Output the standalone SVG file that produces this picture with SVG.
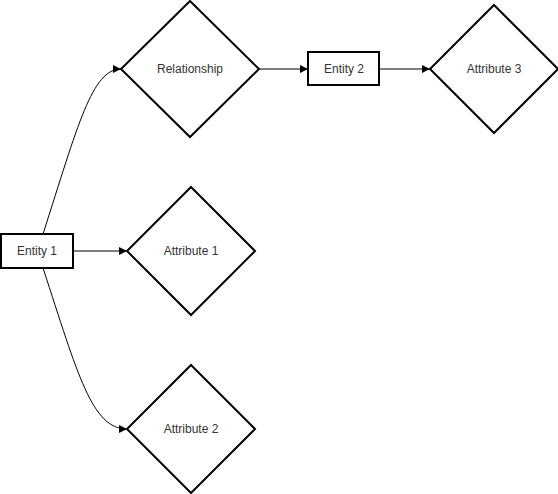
<svg xmlns="http://www.w3.org/2000/svg" width="558" height="494" viewBox="0 0 558 494">
<defs>
<marker id="arr" markerWidth="10" markerHeight="10" refX="9" refY="5" orient="auto" markerUnits="userSpaceOnUse">
<path d="M1,1 L9,5 L1,9 Z" fill="#000"/>
</marker>
<style>
.shape{fill:#fff;stroke:#000;stroke-width:2}
.edge{fill:none;stroke:#000;stroke-width:1;marker-end:url(#arr)}
text{font-family:"Liberation Sans",Arial,sans-serif;font-size:12px;fill:#333;text-anchor:middle;dominant-baseline:central}
</style>
</defs>
<rect width="558" height="494" fill="#fff"/>
<g id="connectors">
<path class="edge" d="M43,234 C78,125 92,69 121,69"/>
<path class="edge" d="M43,268 C78,375 92,429 127,429"/>
<path class="edge" d="M73,251 L127,251"/>
<path class="edge" d="M259,69 L308,69"/>
<path class="edge" d="M379,69 L430,69"/>
</g>
<g id="entity1">
<rect class="shape" x="1" y="234" width="72" height="34"/>
<text x="37" y="251">Entity 1</text>
</g>
<g id="relationship">
<polygon class="shape" points="190,1 259,69 190,137 121,69"/>
<text x="190" y="69">Relationship</text>
</g>
<g id="entity2">
<rect class="shape" x="308" y="52" width="71" height="33"/>
<text x="344" y="69">Entity 2</text>
</g>
<g id="attribute3">
<polygon class="shape" points="494,5 558,69 494,133 430,69"/>
<text x="494" y="69">Attribute 3</text>
</g>
<g id="attribute1">
<polygon class="shape" points="191,187 255,251 191,315 127,251"/>
<text x="191" y="251">Attribute 1</text>
</g>
<g id="attribute2">
<polygon class="shape" points="191,365 255,429 191,493 127,429"/>
<text x="191" y="429">Attribute 2</text>
</g>
</svg>
